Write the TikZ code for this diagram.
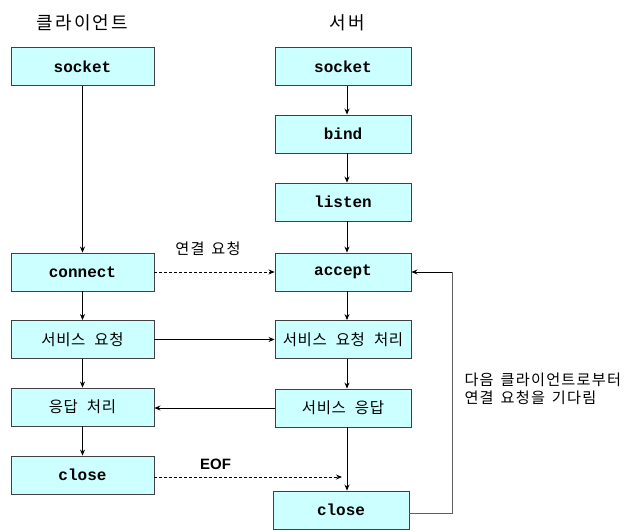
\documentclass[tikz,border=0pt]{standalone}
\usepackage{fontspec}
\usetikzlibrary{arrows.meta,calc}
\newfontfamily\krtitle[LetterSpace=12]{Noto Sans CJK KR}
\newfontfamily\krbox[LetterSpace=4,WordSpace=2.2]{Noto Sans CJK KR}
\newfontfamily\krnote[LetterSpace=8,WordSpace=1.5]{Noto Sans CJK KR}
\newfontfamily\monofnt{Liberation Mono}
\newfontfamily\arialfnt{Liberation Sans}
\definecolor{boxfill}{HTML}{CCFFFF}
\definecolor{boxline}{HTML}{404040}
\definecolor{loopline}{HTML}{606060}
\begin{document}
\begin{tikzpicture}[x=1pt,y=-1pt,
  base/.style={draw=boxline, fill=boxfill, line width=0.9pt, minimum height=38pt, inner sep=0pt},
  cbox/.style={base, minimum width=143pt},
  sbox/.style={base, minimum width=136pt},
  mono/.style={font=\monofnt\bfseries\fontsize{16}{16}\selectfont},
  kbox/.style={font=\krbox\fontsize{15.5}{16}\selectfont},
  title/.style={font=\krtitle\fontsize{18}{19}\selectfont},
  note/.style={font=\krnote\fontsize{15.2}{18}\selectfont},
  arr/.style={line width=0.8pt, -{Stealth[length=6pt,width=5pt]}},
  darr/.style={arr, dashed, dash pattern=on 3pt off 2pt}
]
\useasboundingbox (0,0) rectangle (626,530);
% titles
\node[title] (tc) at (82.5,23) {클라이언트};
\node[title] (ts) at (347,23) {서버};
% client column
\node[cbox, mono] (csock) at (82.5,66.5) {socket};
\node[cbox, mono] (cconn) at (82.5,272) {connect};
\node[cbox, kbox] (creq) at (82.5,339.5) {서비스 요청};
\node[cbox, kbox] (cresp) at (82.5,407) {응답 처리};
\node[cbox, mono] (cclose) at (82.5,475) {close};
% server column
\node[sbox, mono] (ssock) at (343,66.5) {socket};
\node[sbox, mono] (sbind) at (343,134) {bind};
\node[sbox, mono] (slisten) at (343,202) {listen};
\node[sbox, mono] (saccept) at (343,272) {accept};
\node[sbox, kbox] (sreq) at (343,339.5) {서비스 요청 처리};
\node[sbox, kbox] (sresp) at (343,408) {서비스 응답};
\node[sbox, mono] (sclose) at (341,510) {close};
% client arrows
\draw[arr] (csock) -- (cconn);
\draw[arr] (cconn) -- (creq);
\draw[arr] (creq) -- (cresp);
\draw[arr] (cresp) -- (cclose);
% server arrows
\draw[arr] ([xshift=4pt]ssock.south) -- ([xshift=4pt]sbind.north);
\draw[arr] ([xshift=4pt]sbind.south) -- ([xshift=4pt]slisten.north);
\draw[arr] ([xshift=4pt]slisten.south) -- ([xshift=4pt]saccept.north);
\draw[arr] ([xshift=4pt]saccept.south) -- ([xshift=4pt]sreq.north);
\draw[arr] ([xshift=4pt]sreq.south) -- ([xshift=4pt]sresp.north);
\draw[arr] ([xshift=4pt]sresp.south) -- ([xshift=4pt]sresp.south |- sclose.north);
% cross arrows
\draw[darr] (cconn.east) -- (saccept.west);
\node[note] (lreq) at (208,249) {연결 요청};
\draw[arr] (creq.east) -- (sreq.west);
\draw[arr] (sresp.west) -- (cresp.east |- sresp.west);
\coordinate (eofend) at (342,477);
\draw[darr] (cclose.east |- eofend) -- (eofend);
\node[font=\arialfnt\bfseries\fontsize{15}{15}\selectfont] (leof) at (215.5,464) {EOF};
% loop back
\coordinate (lpb) at (452,513);
\coordinate (lpt) at (452,272);
\draw[loopline, line width=0.9pt] (sclose.east |- lpb) -- (lpb) -- (lpt);
\draw[arr] (lpt) -- (saccept.east);
% note
\node[note, anchor=west, align=left] (lnote) at (461,389) {다음 클라이언트로부터\\연결 요청을 기다림};
\end{tikzpicture}
\end{document}
